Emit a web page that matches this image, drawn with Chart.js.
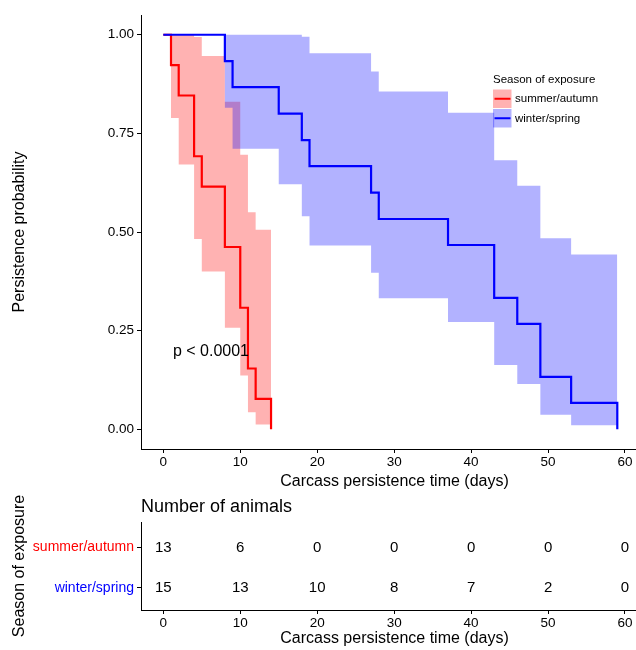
<!DOCTYPE html>
<html><head><meta charset="utf-8">
<script src="https://cdn.jsdelivr.net/npm/chart.js@4.4.1/dist/chart.umd.min.js"></script>
<style>
html,body{margin:0;padding:0;background:#fff;overflow:hidden;width:636px;height:650px}
#wrap{position:relative;width:636px;height:650px;overflow:hidden}
#top{position:absolute;left:0;top:0}
#bot{position:absolute;left:0;top:495px}
</style></head><body>
<div id="wrap">
<canvas id="top" width="650" height="495"></canvas>
<canvas id="bot" width="650" height="155"></canvas>
</div>
<script>
const FONT = "'Liberation Sans', Arial, sans-serif";

// Kaplan-Meier estimates
const groups = ['summer/autumn', 'winter/spring'];
const summerTimes = [0, 1, 2, 4, 5, 8, 10, 11, 12, 14];
const summerSurv  = [1, 0.923, 0.846, 0.692, 0.615, 0.462, 0.308, 0.154, 0.077, 0];
const summerUpper = [1, 1, 1, 0.994, 0.946, 0.830, 0.696, 0.550, 0.506, 0.506];
const summerLower = [1, 0.789, 0.671, 0.482, 0.400, 0.257, 0.136, 0.043, 0.012, 0.012];

const winterTimes = [0, 8, 9, 15, 18, 19, 27, 28, 37, 43, 46, 49, 53, 59];
const winterSurv  = [1, 0.933, 0.867, 0.800, 0.733, 0.667, 0.600, 0.533, 0.467, 0.333, 0.267, 0.133, 0.067, 0];
const winterUpper = [1, 1, 1, 1, 0.995, 0.953, 0.907, 0.856, 0.802, 0.682, 0.617, 0.484, 0.443, 0.443];
const winterLower = [1, 0.815, 0.711, 0.621, 0.540, 0.466, 0.397, 0.332, 0.272, 0.163, 0.115, 0.037, 0.010, 0.010];

const xTicks = [0, 10, 20, 30, 40, 50, 60];
const yTicks = [0, 0.25, 0.5, 0.75, 1];

// number at risk table
const riskTimes  = [0, 10, 20, 30, 40, 50, 60];
const riskSummer = [13, 6, 0, 0, 0, 0, 0];
const riskWinter = [15, 13, 10, 8, 7, 2, 0];

const pValueText = 'p < 0.0001';

const pts = (xs, ys) => xs.map((x, i) => ({x: x, y: ys[i]}));
const XMIN = -2.9, XMAX = 62.99;
const RED = '#FF0000', BLUE = '#0000FF';
const RED_FILL = 'rgba(255,0,0,0.3)', BLUE_FILL = 'rgba(0,0,255,0.3)';
const NONE = 'rgba(0,0,0,0)';

function xScale(height, titlePad) {
  return {
    type: 'linear', min: XMIN, max: XMAX,
    afterBuildTicks: s => { s.ticks = xTicks.map(v => ({value: v})); },
    afterFit: s => { s.height = height; },
    grid: {drawOnChartArea: false, drawTicks: true, tickLength: 4, color: '#000', lineWidth: 1},
    border: {display: true, color: '#000', width: 1},
    ticks: {color: '#000', font: {family: FONT, size: 13.5}, padding: 1.5, maxRotation: 0, autoSkip: false},
    title: {display: true, text: 'Carcass persistence time (days)', color: '#000',
            font: {family: FONT, size: 16}, padding: {top: 0, bottom: titlePad}}
  };
}

const topDecor = {
  id: 'topDecor',
  afterDraw(chart) {
    const ctx = chart.ctx, xs = chart.scales.x, ys = chart.scales.y;
    ctx.save();
    ctx.fillStyle = '#000';
    ctx.textBaseline = 'middle';
    ctx.textAlign = 'left';
    ctx.font = '16px ' + FONT;
    ctx.fillText(pValueText, xs.getPixelForValue(1.25), ys.getPixelForValue(0.196));
    // legend
    ctx.font = '11.5px ' + FONT;
    ctx.fillText('Season of exposure', 493, 80);
    const items = [
      {label: groups[0], fill: RED_FILL, line: RED},
      {label: groups[1], fill: BLUE_FILL, line: BLUE}
    ];
    items.forEach((it, i) => {
      const y0 = 89.5 + i * 19.5;
      ctx.fillStyle = it.fill;
      ctx.fillRect(493, y0, 18.5, 18.5);
      ctx.strokeStyle = it.line;
      ctx.lineWidth = 2;
      ctx.beginPath();
      ctx.moveTo(494.5, y0 + 9.25);
      ctx.lineTo(510.5, y0 + 9.25);
      ctx.stroke();
      ctx.fillStyle = '#000';
      ctx.fillText(it.label, 515, y0 + 9.5);
    });
    ctx.restore();
  }
};

new Chart(document.getElementById('top'), {
  type: 'line',
  data: {datasets: [
    {data: pts(summerTimes, summerUpper), stepped: true, borderWidth: 0, borderColor: NONE, pointRadius: 0,
     fill: '+1', backgroundColor: RED_FILL, order: 5},
    {data: pts(summerTimes, summerLower), stepped: true, borderWidth: 0, borderColor: NONE, pointRadius: 0,
     fill: false, order: 5},
    {data: pts(winterTimes, winterUpper), stepped: true, borderWidth: 0, borderColor: NONE, pointRadius: 0,
     fill: '+1', backgroundColor: BLUE_FILL, order: 4},
    {data: pts(winterTimes, winterLower), stepped: true, borderWidth: 0, borderColor: NONE, pointRadius: 0,
     fill: false, order: 4},
    {label: groups[0], data: pts(summerTimes, summerSurv), stepped: true, borderColor: RED, borderWidth: 2.2,
     pointRadius: 0, fill: false, order: 1},
    {label: groups[1], data: pts(winterTimes, winterSurv), stepped: true, borderColor: BLUE, borderWidth: 2.2,
     pointRadius: 0, fill: false, order: 0}
  ]},
  options: {
    responsive: false, animation: false, events: [],
    layout: {padding: {top: 15, right: 2, left: 0, bottom: 0}},
    plugins: {legend: {display: false}, tooltip: {enabled: false}},
    scales: {
      x: xScale(46, 4),
      y: {
        type: 'linear', min: -0.05, max: 1.05,
        afterBuildTicks: s => { s.ticks = yTicks.map(v => ({value: v})); },
        afterFit: s => { s.width = 141; },
        grid: {drawOnChartArea: false, drawTicks: true, tickLength: 4, color: '#000', lineWidth: 1},
        border: {display: true, color: '#000', width: 1},
        ticks: {color: '#000', font: {family: FONT, size: 13.5}, padding: 3, callback: v => v.toFixed(2)},
        title: {display: true, text: 'Persistence probability', color: '#000',
                font: {family: FONT, size: 16}, padding: {top: 10, bottom: 0}}
      }
    }
  },
  plugins: [topDecor]
});

const tableDecor = {
  id: 'tableDecor',
  afterDraw(chart) {
    const ctx = chart.ctx, xs = chart.scales.x, ys = chart.scales.y;
    ctx.save();
    ctx.fillStyle = '#000';
    ctx.textBaseline = 'middle';
    ctx.textAlign = 'left';
    ctx.font = '18px ' + FONT;
    ctx.fillText('Number of animals', chart.chartArea.left, 12.5);
    ctx.font = '15px ' + FONT;
    ctx.textAlign = 'center';
    riskTimes.forEach((t, i) => {
      const x = xs.getPixelForValue(t);
      ctx.fillText(String(riskSummer[i]), x, ys.getPixelForValue(2));
      ctx.fillText(String(riskWinter[i]), x, ys.getPixelForValue(1));
    });
    ctx.restore();
  }
};

new Chart(document.getElementById('bot'), {
  type: 'scatter',
  data: {datasets: []},
  options: {
    responsive: false, animation: false, events: [],
    layout: {padding: {top: 27, right: 2, left: 0, bottom: 0}},
    plugins: {legend: {display: false}, tooltip: {enabled: false}},
    scales: {
      x: xScale(40, 2),
      y: {
        type: 'linear', min: 0.45, max: 2.63,
        afterBuildTicks: s => { s.ticks = [{value: 2}, {value: 1}]; },
        afterFit: s => { s.width = 141; },
        grid: {drawOnChartArea: false, drawTicks: true, tickLength: 4, color: '#000', lineWidth: 1},
        border: {display: true, color: '#000', width: 1},
        ticks: {font: {family: FONT, size: 14}, padding: 3,
                color: c => (c.tick && c.tick.value === 2) ? RED : BLUE,
                callback: v => v === 2 ? groups[0] : groups[1]},
        title: {display: true, text: 'Season of exposure', color: '#000',
                font: {family: FONT, size: 16}, padding: {top: 10, bottom: 0}}
      }
    }
  },
  plugins: [tableDecor]
});
</script>
</body></html>
